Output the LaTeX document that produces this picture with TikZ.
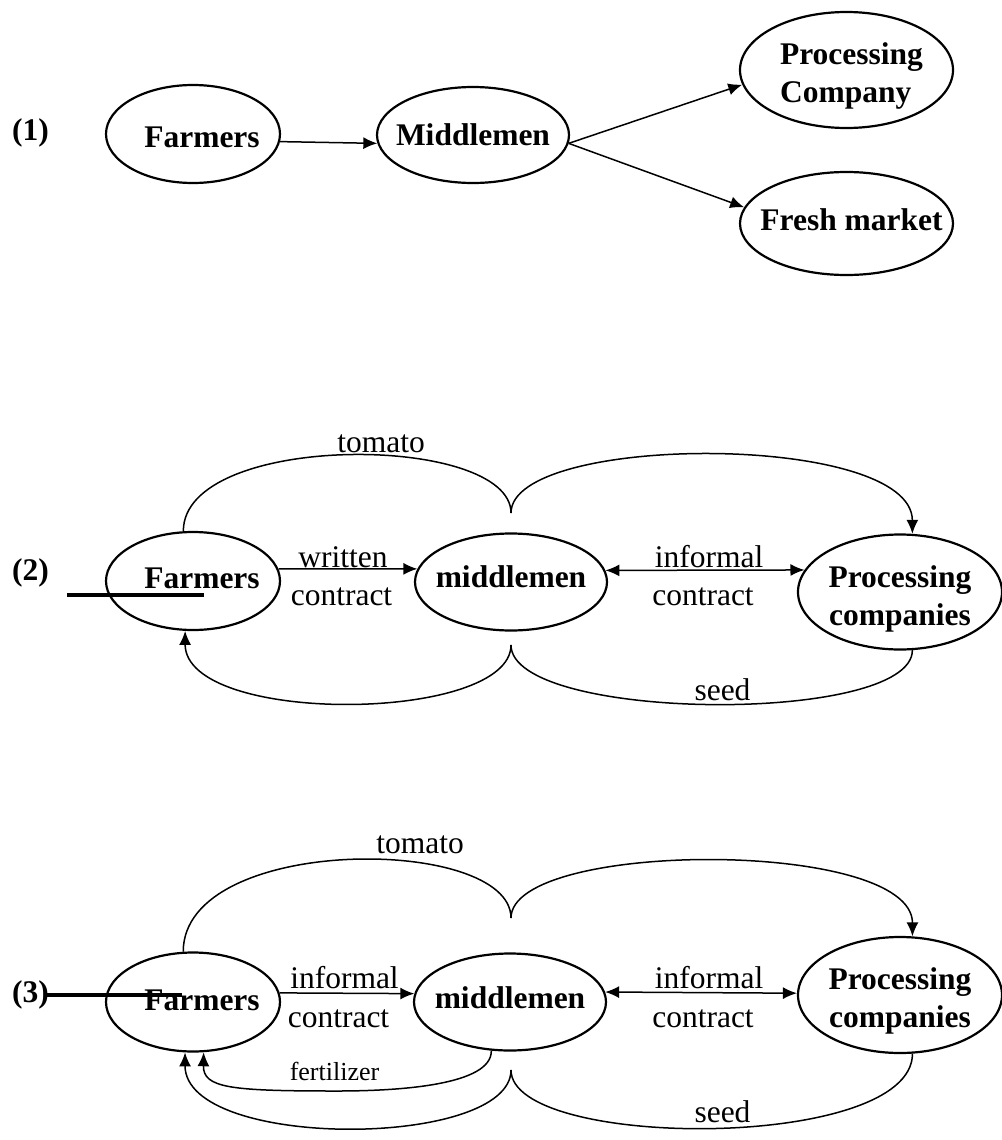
\documentclass[tikz,border=0pt]{standalone}
\usepackage{fontspec}
\setmainfont{Liberation Serif}
\usetikzlibrary{shapes.geometric,arrows.meta}
\newcommand\ndfont{\fontsize{31.5}{38}\selectfont\bfseries}
\newcommand\lbfont{\fontsize{31.5}{38}\selectfont}
\newcommand\smfont{\fontsize{26}{30}\selectfont}
\begin{document}
\begin{tikzpicture}[x=1pt,y=-1pt,
  ell/.style={draw,ellipse,line width=2.2pt,inner xsep=-40pt,inner ysep=0pt,font=\ndfont,align=center},
  lbl/.style={inner sep=0pt,anchor=base,font=\lbfont},
  num/.style={inner sep=0pt,anchor=base west,font=\ndfont},
  conn/.style={line width=1.5pt},
  arr/.style={conn,-{Latex[length=14pt,width=12pt]}},
  darr/.style={conn,{Latex[length=14pt,width=12pt]}-{Latex[length=14pt,width=12pt]}},
  bar/.style={line width=3.2pt}]
\useasboundingbox (0,0) rectangle (1001,1140);

% ---------- section (1)
\node[num] (n1) at (12,140) {(1)};
\node[ell,minimum width=174pt,minimum height=98pt,text height=26pt,text depth=0pt] (f1) at (193,134) {\hspace*{18pt}Farmers};
\node[ell,minimum width=192pt,minimum height=96pt] (m1) at (473,135) {Middlemen};
\node[ell,minimum width=213pt,minimum height=116pt,align=left,text height=64pt,text depth=0pt] (pc) at (846.5,70) {\hspace*{10pt}Processing\\\hspace*{10pt}Company};
\node[ell,minimum width=213pt,minimum height=103pt,text height=21pt,text depth=8pt] (fm) at (846.5,223.5) {\hspace*{10pt}Fresh market};
\draw[arr] (f1.-5) -- (m1.185);
\draw[arr] (m1.-5) -- (pc.188);
\draw[arr] (m1.-5) -- (fm.171);

% ---------- section (2)
\node[num] (n2) at (12,580) {(2)};
\node[ell,minimum width=174pt,minimum height=98pt,text height=21pt,text depth=7pt] (f2) at (193,581) {\hspace*{18pt}Farmers};
\node[ell,minimum width=192pt,minimum height=97pt,text height=21pt,text depth=11pt] (m2) at (511,582) {middlemen};
\node[ell,minimum width=204pt,minimum height=115pt,text height=66pt,text depth=0pt] (p2) at (900,592) {Processing\\companies};
\coordinate (b2s) at (67,595);
\coordinate (b2e) at (204,595);
\draw[bar] (b2s) -- (b2e);
\draw[arr] (f2.8) -- (m2.172);
\draw[darr] (m2.7) -- (p2.167);
\coordinate (c2t) at (511,513);
\coordinate (c2b) at (511,645);
\draw[conn] (f2.101) .. controls +(0,-100) and +(0,-80) .. (c2t);
\draw[arr] (c2t) .. controls +(0,-80) and +(0,-102) .. (p2.78);
\draw[arr] (c2b) .. controls +(0,78) and +(0,95) .. (f2.-99);
\draw[conn] (c2b) .. controls +(0,77) and +(0,75) .. (p2.-78);
\node[lbl] (tom2) at (381,452) {tomato};
\node[lbl] (wr2) at (343,567) {written};
\node[lbl] (co2a) at (341.5,605) {contract};
\node[lbl] (inf2) at (709,567) {informal};
\node[lbl] (co2b) at (703,605) {contract};
\node[lbl] (seed2) at (722.5,700) {seed};

% ---------- section (3)
\node[num] (n3) at (12,1002) {(3)};
\node[ell,minimum width=174pt,minimum height=99pt,text height=21pt,text depth=5pt] (f3) at (193,1002) {\hspace*{18pt}Farmers};
\node[ell,minimum width=192pt,minimum height=97pt,text height=21pt,text depth=9pt] (m3) at (510,1002) {middlemen};
\node[ell,minimum width=204pt,minimum height=116pt,text height=64pt,text depth=0pt] (p3) at (900,995) {Processing\\companies};
\coordinate (b3s) at (47,995);
\coordinate (b3e) at (182,995);
\draw[bar,line width=3.6pt] (b3s) -- (b3e);
\draw[arr] (f3.6) -- (m3.175);
\draw[darr] (m3.6) -- (p3.179);
\coordinate (c3t) at (511,918);
\coordinate (c3b) at (511,1070);
\draw[conn] (f3.101) .. controls +(0,-118) and +(0,-83) .. (c3t);
\draw[arr] (c3t) .. controls +(0,-78) and +(0,-98) .. (p3.78);
\draw[arr] (c3b) .. controls +(0,79) and +(0,98) .. (f3.-99);
\draw[conn] (c3b) .. controls +(0,80) and +(0,98) .. (p3.-78);
\draw[arr] (m3.249) .. controls (492,1085) and (400,1091) .. (337,1091) .. controls (230,1091) and (203,1088) .. (f3.-78);
\node[lbl] (tom3) at (420,853) {tomato};
\node[lbl] (inf3a) at (344.5,988) {informal};
\node[lbl] (co3a) at (338.5,1027) {contract};
\node[lbl] (inf3b) at (709,988) {informal};
\node[lbl] (co3b) at (703,1027) {contract};
\node[lbl,font=\smfont] (fert) at (334.5,1080) {fertilizer};
\node[lbl] (seed3) at (722.5,1122) {seed};
\end{tikzpicture}
\end{document}
